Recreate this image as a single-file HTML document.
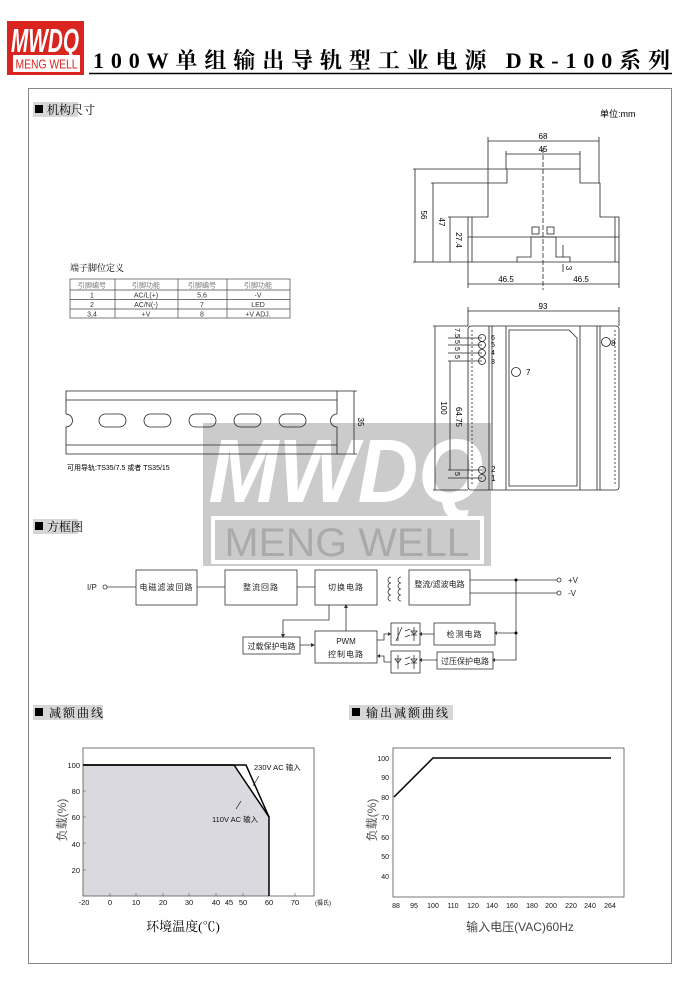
<!DOCTYPE html>
<html><head><meta charset="utf-8"><style>
html,body{margin:0;padding:0;background:#fff;}
svg{display:block;}
text{font-family:"Liberation Sans","Noto Sans CJK SC",sans-serif;}
.s{font-family:"Liberation Serif","Noto Serif CJK SC",serif;}
</style></head><body>
<svg width="694" height="995" viewBox="0 0 694 995" xmlns="http://www.w3.org/2000/svg">
<!-- logo -->
<rect x="7" y="21" width="77" height="54" fill="#d8251f"/>
<text x="45" y="52" font-size="33" font-weight="bold" font-style="italic" fill="#fff" text-anchor="middle" textLength="68" lengthAdjust="spacingAndGlyphs">MWDQ</text>
<rect x="13" y="55" width="67" height="17" fill="#fff"/>
<text x="46.5" y="68.5" font-size="12.5" fill="#d8251f" text-anchor="middle" textLength="62" lengthAdjust="spacingAndGlyphs">MENG WELL</text>
<!-- title -->
<text class="s" x="93" y="68" font-size="22" font-weight="bold" fill="#000" textLength="577" lengthAdjust="spacing">100W单组输出导轨型工业电源  DR-100系列</text>
<line x1="89" y1="73.5" x2="672" y2="73.5" stroke="#000" stroke-width="1.5"/>
<!-- frame -->
<rect x="28.5" y="88.5" width="643" height="875" fill="none" stroke="#888" stroke-width="1"/>

<!-- watermark -->
<rect x="203" y="423" width="288" height="143" fill="#cbcbcb"/>
<text x="346" y="502" font-size="90" font-weight="bold" font-style="italic" fill="#fff" text-anchor="middle" textLength="275" lengthAdjust="spacingAndGlyphs">MWDQ</text>
<rect x="213" y="518" width="269" height="44" fill="none" stroke="#fff" stroke-width="4"/>
<text x="347" y="556" font-size="40" fill="#aaa" text-anchor="middle" textLength="245" lengthAdjust="spacingAndGlyphs">MENG WELL</text>

<!-- section headers -->
<g font-size="12">
<rect x="33" y="102" width="45" height="15" fill="#d6d6d6"/><rect x="35" y="105" width="8" height="8" fill="#000"/><text class="s" x="47" y="114">机构尺寸</text>
<rect x="33" y="519" width="45" height="15" fill="#d6d6d6"/><rect x="35" y="522" width="8" height="8" fill="#000"/><text class="s" x="47" y="531">方框图</text>
<rect x="33" y="705" width="70" height="15" fill="#d6d6d6"/><rect x="35" y="708" width="8" height="8" fill="#000"/><text class="s" x="49" y="717" letter-spacing="2">减额曲线</text>
<rect x="349" y="705" width="104" height="15" fill="#d6d6d6"/><rect x="352" y="708" width="8" height="8" fill="#000"/><text class="s" x="366" y="717" letter-spacing="2">输出减额曲线</text>
</g>
<text x="600" y="117" font-size="9">单位:mm</text>

<!-- top view -->
<g stroke="#222" stroke-width="0.8" fill="none">
<path d="M468,262 V217 H488 V183 H507 V169 H580 V183 H600 V217 H619 V262 Z"/>
<line x1="468" y1="237" x2="619" y2="237"/>
<line x1="472" y1="217" x2="472" y2="262"/><line x1="615" y1="217" x2="615" y2="262"/>
<path d="M517,262 V257 H531 V237 M556,237 V257 H570 V262"/>
<line x1="531" y1="237" x2="556" y2="237"/>
<rect x="532" y="227" width="7" height="7"/><rect x="547" y="227" width="7" height="7"/>
<line x1="543" y1="148" x2="543" y2="290" stroke-dasharray="5,2"/>
<line x1="488" y1="141" x2="599" y2="141"/><line x1="488" y1="137" x2="488" y2="183"/><line x1="599" y1="137" x2="599" y2="183"/>
<line x1="506" y1="154" x2="580" y2="154"/><line x1="506" y1="151" x2="506" y2="169"/><line x1="580" y1="151" x2="580" y2="169"/>
<line x1="415" y1="169" x2="415" y2="262"/><line x1="413" y1="169" x2="507" y2="169"/>
<line x1="433" y1="183" x2="433" y2="262"/><line x1="431" y1="183" x2="488" y2="183"/>
<line x1="450" y1="217" x2="450" y2="262"/><line x1="448" y1="217" x2="468" y2="217"/>
<line x1="413" y1="262" x2="468" y2="262"/>
<line x1="468" y1="262" x2="468" y2="288"/><line x1="619" y1="262" x2="619" y2="288"/>
<line x1="468" y1="284" x2="619" y2="284"/>
<line x1="563" y1="245" x2="563" y2="257"/><line x1="563" y1="264" x2="563" y2="272"/>
<!-- front view -->
<line x1="468" y1="311" x2="619" y2="311"/><line x1="468" y1="307" x2="468" y2="326"/><line x1="619" y1="307" x2="619" y2="326"/>
<rect x="468" y="326" width="151" height="164" rx="3"/>
<line x1="489" y1="326" x2="489" y2="490"/><line x1="492" y1="326" x2="492" y2="490"/>
<line x1="506" y1="326" x2="506" y2="490"/><line x1="580" y1="326" x2="580" y2="490"/>
<line x1="597" y1="326" x2="597" y2="490"/><line x1="600" y1="326" x2="600" y2="490"/>
<path d="M509,330 H569 L577,338 V486 H509 Z"/>
<line x1="472" y1="330" x2="472" y2="486" stroke-dasharray="2,2"/><line x1="615" y1="330" x2="615" y2="486" stroke-dasharray="2,2"/>
<circle cx="482" cy="338" r="3.5"/><circle cx="482" cy="345" r="3.5"/><circle cx="482" cy="353" r="3.5"/><circle cx="482" cy="361" r="3.5"/>
<circle cx="482" cy="470" r="3.5"/><circle cx="482" cy="478" r="3.5"/>
<circle cx="516" cy="372" r="4.5"/><circle cx="606" cy="342" r="4.5"/>
<line x1="435" y1="326" x2="435" y2="490"/><line x1="433" y1="326" x2="468" y2="326"/><line x1="433" y1="490" x2="468" y2="490"/>
<line x1="450" y1="361" x2="450" y2="470"/>
<line x1="448" y1="338" x2="482" y2="338"/><line x1="448" y1="345" x2="482" y2="345"/><line x1="448" y1="353" x2="482" y2="353"/><line x1="448" y1="361" x2="482" y2="361"/>
<line x1="448" y1="470" x2="482" y2="470"/><line x1="448" y1="478" x2="482" y2="478"/>
</g>
<g font-size="8" fill="#000">
<text x="543" y="139" text-anchor="middle">68</text>
<text x="543" y="152" text-anchor="middle">45</text>
<text x="506" y="282" text-anchor="middle">46.5</text>
<text x="581" y="282" text-anchor="middle">46.5</text>
<text x="543" y="309" text-anchor="middle">93</text>
<text transform="translate(421,215) rotate(90)" text-anchor="middle">56</text>
<text transform="translate(439,222) rotate(90)" text-anchor="middle">47</text>
<text transform="translate(456,240) rotate(90)" text-anchor="middle">27.4</text>
<text transform="translate(566,268) rotate(90)" text-anchor="middle">3</text>
<text transform="translate(441,408) rotate(90)" text-anchor="middle">100</text>
<text transform="translate(456,417) rotate(90)" text-anchor="middle">64.75</text>
<text transform="translate(455,333) rotate(90)" text-anchor="middle" font-size="7">7.5</text>
<text transform="translate(455,342) rotate(90)" text-anchor="middle" font-size="7">5</text>
<text transform="translate(455,349) rotate(90)" text-anchor="middle" font-size="7">5</text>
<text transform="translate(455,357) rotate(90)" text-anchor="middle" font-size="7">5</text>
<text transform="translate(455,474) rotate(90)" text-anchor="middle" font-size="7">5</text>
<g font-size="7"><text x="491" y="340">6</text><text x="491" y="347">5</text><text x="491" y="355">4</text><text x="491" y="364">3</text></g>
<text x="491" y="472">2</text><text x="491" y="481">1</text>
<text x="526" y="375">7</text><text x="611" y="346">8</text>
</g>

<!-- pin table -->
<text class="s" x="70" y="271" font-size="9">端子脚位定义</text>
<g stroke="#444" stroke-width="0.7" fill="none">
<rect x="70" y="279" width="220" height="39"/>
<line x1="70" y1="290" x2="290" y2="290"/><line x1="70" y1="299.5" x2="290" y2="299.5"/><line x1="70" y1="309" x2="290" y2="309"/>
<line x1="115" y1="279" x2="115" y2="318"/><line x1="178" y1="279" x2="178" y2="318"/><line x1="227" y1="279" x2="227" y2="318"/>
</g>
<g font-size="7" text-anchor="middle" fill="#333">
<text x="92" y="287.5" fill="#777">引脚编号</text><text x="146" y="287.5" fill="#777">引脚功能</text><text x="202" y="287.5" fill="#777">引脚编号</text><text x="258" y="287.5" fill="#777">引脚功能</text>
<text x="92" y="297.5">1</text><text x="146" y="297.5">AC/L(+)</text><text x="202" y="297.5">5,6</text><text x="258" y="297.5">-V</text>
<text x="92" y="307">2</text><text x="146" y="307">AC/N(-)</text><text x="202" y="307">7</text><text x="258" y="307">LED</text>
<text x="92" y="316.5">3,4</text><text x="146" y="316.5">+V</text><text x="202" y="316.5">8</text><text x="258" y="316.5">+V ADJ.</text>
</g>

<!-- DIN rail -->
<g stroke="#222" stroke-width="0.8" fill="none">
<path d="M66,391 H337 V414 A6,6 0 0 0 337,427 V454 H66 V427 A6,6 0 0 0 66,414 Z"/>
<line x1="66" y1="400" x2="337" y2="400"/><line x1="66" y1="445" x2="337" y2="445"/>
<rect x="99" y="414" width="27" height="13" rx="6.5"/><rect x="144" y="414" width="27" height="13" rx="6.5"/>
<rect x="189" y="414" width="27" height="13" rx="6.5"/><rect x="234" y="414" width="27" height="13" rx="6.5"/>
<rect x="279" y="414" width="27" height="13" rx="6.5"/>
<line x1="337" y1="391" x2="357" y2="391"/><line x1="337" y1="454" x2="357" y2="454"/><line x1="354" y1="391" x2="354" y2="454"/>
</g>
<text transform="translate(358,422) rotate(90)" font-size="8" text-anchor="middle">35</text>
<text x="67" y="470" font-size="7">可用导轨:TS35/7.5 或者 TS35/15</text>

<!-- block diagram -->
<g stroke="#333" stroke-width="0.8" fill="none">
<rect x="136" y="570" width="61" height="35"/><rect x="225" y="570" width="72" height="35"/>
<rect x="315" y="570" width="62" height="35"/><rect x="409" y="570" width="61" height="35"/>
<rect x="315" y="631" width="62" height="32"/><rect x="243" y="637" width="57" height="17"/>
<rect x="391" y="623" width="29" height="22"/><rect x="391" y="651" width="29" height="22"/>
<rect x="434" y="623" width="61" height="22"/><rect x="437" y="652" width="56" height="17"/>
<circle cx="105" cy="587" r="2"/><circle cx="559" cy="580" r="2"/><circle cx="559" cy="593" r="2"/>
<path d="M107,587 H136 M197,587 H225 M297,587 H315"/>
<path d="M470,580 H557 M470,593 H557 M516,580 V660 H493 M516,633 H495"/>
<path d="M329,605 V620 H283 V635 M346,605 V631 M300,645 H313 M377,640 H384 V634 H391 M391,662 H384 V656 H379"/>
<path d="M391,589 a3,3 0 0 1 0,-6 a3,3 0 0 1 0,-6 M391,601 a3,3 0 0 1 0,-6 a3,3 0 0 1 0,-6"/>
<path d="M401,577 a3,3 0 0 0 0,6 a3,3 0 0 0 0,6 a3,3 0 0 0 0,6 a3,3 0 0 0 0,6"/>
<path d="M434,634 H422 M437,660 H422"/>
<path d="M398,627 V641 M402,627 L396,641 M405,631 l5,-2 M405,637 l5,-2 M414,627 V641 M411,631 h6 l-3,4 z M411,635 h6"/>
<path d="M398,655 V669 M395,659 h6 l-3,4 z M405,659 l5,-2 M405,665 l5,-2 M414,655 V669 M411,659 h6 l-3,4 z M411,663 h6"/>
</g>
<circle cx="516" cy="580" r="1.5"/><circle cx="516" cy="633" r="1.5"/>
<path d="M281,634 l2,4 l2,-4z M311,643 l4,2 l-4,2z M344,608 l2,-4 l2,4z M422,632 l-3,2 l3,2z M422,658 l-3,2 l3,2z M380,654 l-3,2 l3,2z M388,632 l3,2 l-3,2z M497,631 l-3,2 l3,2z M495,658 l-3,2 l3,2z" fill="#333"/>
<g font-size="8" fill="#222">
<text x="87" y="590">I/P</text><text x="568" y="583">+V</text><text x="568" y="596">-V</text>
<text x="166.5" y="590" text-anchor="middle" letter-spacing="1">电磁滤波回路</text>
<text x="261" y="590" text-anchor="middle" letter-spacing="1">整流回路</text>
<text x="346" y="590" text-anchor="middle" letter-spacing="1">切换电路</text>
<text x="439.5" y="587" text-anchor="middle">整流/滤波电路</text>
<text x="346" y="644" text-anchor="middle">PWM</text>
<text x="346" y="657" text-anchor="middle" letter-spacing="1">控制电路</text>
<text x="271.5" y="649" text-anchor="middle">过载保护电路</text>
<text x="464.5" y="637" text-anchor="middle" letter-spacing="1">检测电路</text>
<text x="465" y="664" text-anchor="middle">过压保护电路</text>
</g>

<!-- left derating chart -->
<polygon points="83,765 234,765 269,817 269,896 83,896" fill="#d9d9df"/>
<rect x="83" y="748" width="231" height="148" fill="none" stroke="#555" stroke-width="0.8"/>
<polyline points="83,765 246,765 269,817" fill="none" stroke="#000" stroke-width="1.5"/>
<polyline points="83,765 234,765 269,817 269,896" fill="none" stroke="#000" stroke-width="1.5"/>
<line x1="253" y1="786" x2="259" y2="776" stroke="#000" stroke-width="0.6"/>
<line x1="241" y1="801" x2="236" y2="809" stroke="#000" stroke-width="0.6"/>
<g font-size="7.5" fill="#111">
<text x="254" y="770">230V AC 输入</text><text x="212" y="822">110V AC 输入</text>
<g text-anchor="end"><text x="80" y="768">100</text><text x="80" y="794">80</text><text x="80" y="820">60</text><text x="80" y="847">40</text><text x="80" y="873">20</text></g>
<g text-anchor="middle"><text x="84" y="905">-20</text><text x="110" y="905">0</text><text x="136" y="905">10</text><text x="163" y="905">20</text><text x="189" y="905">30</text><text x="216" y="905">40</text><text x="229" y="905">45</text><text x="243" y="905">50</text><text x="269" y="905">60</text><text x="295" y="905">70</text><text x="323" y="905" font-size="6">(摄氏)</text></g>
</g>
<g stroke="#555" stroke-width="0.6"><path d="M110,893 v3 M136,893 v3 M163,893 v3 M189,893 v3 M216,893 v3 M243,893 v3 M295,893 v3 M83,870 h3 M83,843 h3 M83,817 h3 M83,791 h3"/></g>
<text transform="translate(66,820) rotate(-90)" font-size="12" fill="#555" text-anchor="middle">负载(%)</text>
<text class="s" x="183" y="931" font-size="13" text-anchor="middle">环境温度(℃)</text>

<!-- right chart -->
<rect x="393" y="748" width="231" height="149" fill="none" stroke="#555" stroke-width="0.8"/>
<polyline points="394,797 433,758 611,758" fill="none" stroke="#000" stroke-width="1.5"/>
<g font-size="7" fill="#111">
<g text-anchor="end"><text x="389" y="761">100</text><text x="389" y="780">90</text><text x="389" y="800">80</text><text x="389" y="820">70</text><text x="389" y="840">60</text><text x="389" y="859">50</text><text x="389" y="879">40</text></g>
<g text-anchor="middle"><text x="396" y="908">88</text><text x="414" y="908">95</text><text x="433" y="908">100</text><text x="453" y="908">110</text><text x="473" y="908">120</text><text x="492" y="908">140</text><text x="512" y="908">160</text><text x="532" y="908">180</text><text x="551" y="908">200</text><text x="571" y="908">220</text><text x="590" y="908">240</text><text x="610" y="908">264</text></g>
</g>
<text transform="translate(376,820) rotate(-90)" font-size="12" fill="#555" text-anchor="middle">负载(%)</text>
<text x="520" y="931" font-size="12" fill="#444" text-anchor="middle">输入电压(VAC)60Hz</text>
</svg>
</body></html>
